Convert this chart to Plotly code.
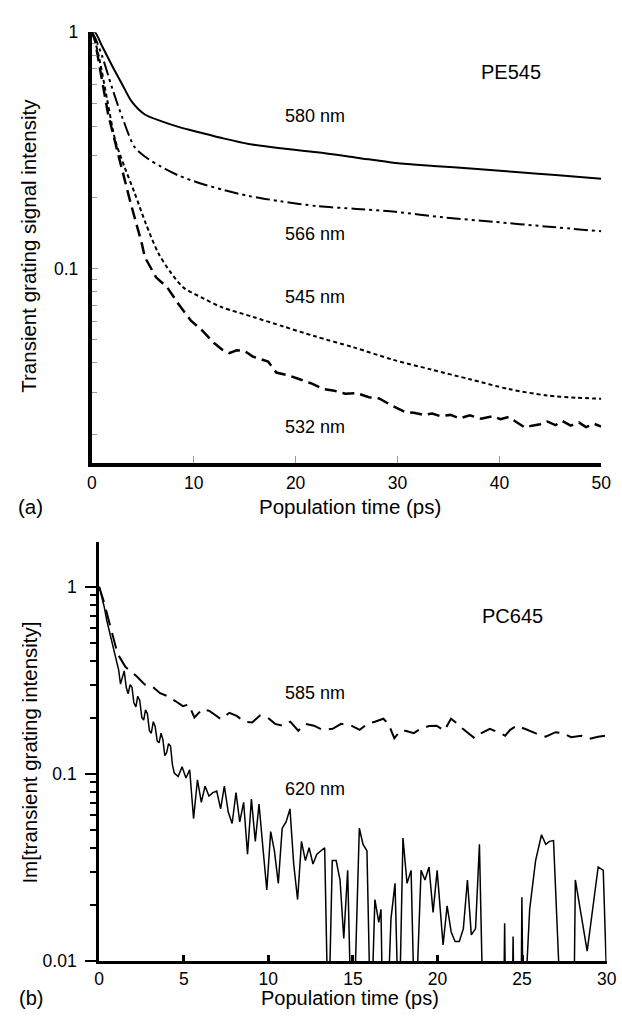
import plotly.graph_objects as go

W, H = 622, 1022
FONT = "Liberation Sans, Arial, Helvetica, sans-serif"

# ---- panel (a): PE545, transient grating signal ----
t_580 = [0, 0.3, 1.0, 2.0, 3.0, 3.9, 5.2, 6.8, 8.5, 10.6, 13.0,
         15.4, 18.5, 22.1, 26.0, 29.8, 33.5, 37.5, 41.3, 45.5, 50.0]
v_580 = [1.0, 1.0, 0.875, 0.72, 0.60, 0.51, 0.449, 0.421, 0.398, 0.377, 0.355,
         0.337, 0.323, 0.311, 0.295, 0.280, 0.272, 0.265, 0.257, 0.249, 0.240]

t_566 = [0, 0.3, 1.0, 2.0, 3.0, 4.2, 5.5, 6.8, 8.5, 10.6,
         13.0, 15.4, 18.5, 22.1, 26.0, 29.8, 34.5, 39.4, 44.5, 50.0]
v_566 = [1.0, 0.95, 0.795, 0.579, 0.435, 0.327, 0.292, 0.270, 0.248, 0.230,
         0.215, 0.203, 0.193, 0.184, 0.179, 0.174, 0.165, 0.158, 0.151, 0.144]

t_545 = [0, 0.3, 0.74, 1.5, 2.3, 3.2, 4.2, 5.3, 6.5, 7.7, 9.0, 10.8,
         12.7, 15.8, 18.8, 21.9, 25.7, 29.5, 33.3, 37.1, 40.9, 44.7, 47.5, 50.0]
v_545 = [1.0, 0.92, 0.77, 0.52, 0.349, 0.27, 0.209, 0.155, 0.117, 0.097, 0.0832, 0.0755,
         0.0689, 0.0626, 0.057, 0.0518, 0.0465, 0.0413, 0.0375, 0.0341, 0.031, 0.0291, 0.0285, 0.0282]

t_532 = [0, 0.3, 0.74, 1.6, 2.65, 3.8, 4.9, 5.2, 6.3, 7.4,
         8.5, 9.7, 10.8, 12.0, 12.8, 13.5, 14.2, 15.0, 15.8, 16.6,
         17.3, 18.1, 19.2, 20.4, 21.5, 22.7, 23.8, 24.9, 26.0, 27.2,
         28.2, 29.1, 29.9, 30.7, 31.6, 32.6, 33.4, 34.2, 35.2, 36.1,
         37.1, 38.2, 39.4, 40.1, 40.9, 41.7, 42.5, 43.2, 44.0, 44.7,
         45.5, 46.2, 47.0, 47.8, 48.5, 49.3, 50.0]
v_532 = [1.0, 0.93, 0.723, 0.45, 0.297, 0.19, 0.128, 0.112, 0.092, 0.0834,
         0.071, 0.0605, 0.055, 0.0485, 0.0455, 0.044, 0.0452, 0.0449, 0.0425, 0.0413,
         0.0405, 0.0364, 0.0355, 0.0341, 0.0328, 0.031, 0.0305, 0.0296, 0.0298, 0.0286,
         0.0283, 0.0269, 0.0258, 0.0248, 0.0246, 0.0241, 0.0244, 0.0238, 0.0241, 0.0233,
         0.0240, 0.0232, 0.0238, 0.0231, 0.0236, 0.0225, 0.0213, 0.0217, 0.0220, 0.0226,
         0.0218, 0.0227, 0.0217, 0.0224, 0.0214, 0.0221, 0.0215]

# ---- panel (b): PC645, Im[transient grating] ----
t_585 = [0, 0.3, 0.63, 1.09, 1.55, 2.23, 2.7, 3.14, 3.6, 4.05,
         4.5, 4.95, 5.3, 5.63, 6.1, 6.52, 6.9, 7.2, 7.7, 8.13,
         8.6, 9.04, 9.5, 9.96, 10.4, 10.86, 11.3, 11.77, 12.2, 12.7,
         13.2, 13.8, 14.3, 14.9, 15.4, 15.86, 16.3, 16.8, 17.1, 17.45,
         17.8, 18.1, 18.6, 19.0, 19.5, 19.95, 20.4, 20.8, 21.2, 21.5,
         21.9, 22.2, 22.6, 23.1, 23.5, 24.0, 24.3, 24.7, 25.3, 25.85,
         26.4, 26.98, 27.4, 27.9, 28.5, 29.0, 29.5, 29.9]
v_585 = [1.0, 0.82, 0.629, 0.438, 0.373, 0.331, 0.30, 0.293, 0.27, 0.26,
         0.245, 0.230, 0.235, 0.200, 0.222, 0.217, 0.205, 0.196, 0.212, 0.204,
         0.19, 0.188, 0.205, 0.200, 0.185, 0.181, 0.19, 0.170, 0.185, 0.181,
         0.172, 0.174, 0.185, 0.181, 0.172, 0.185, 0.19, 0.197, 0.185, 0.155,
         0.17, 0.170, 0.165, 0.174, 0.18, 0.181, 0.17, 0.197, 0.185, 0.174,
         0.163, 0.155, 0.165, 0.174, 0.168, 0.160, 0.172, 0.181, 0.172, 0.164,
         0.158, 0.167, 0.165, 0.157, 0.16, 0.154, 0.158, 0.160]

# values that fall below 0.01 are drawn off the bottom of the log axis
t_620 = [0, 0.15, 0.3, 0.45, 0.57, 0.7, 0.85, 1.03, 1.15, 1.26, 1.37, 1.48,
         1.6, 1.71, 1.83, 1.94, 2.05, 2.17, 2.28, 2.4, 2.52, 2.63,
         2.74, 2.85, 2.97, 3.08, 3.2, 3.31, 3.43, 3.54, 3.66, 3.77,
         3.88, 3.99, 4.1, 4.22, 4.33, 4.44, 4.67,
         4.90, 5.13, 5.35, 5.58, 5.81, 6.04, 6.26, 6.49, 6.72, 6.95,
         7.18, 7.40, 7.63, 7.86, 8.09, 8.31, 8.54, 8.77, 9.0, 9.23,
         9.45, 9.68, 9.91, 10.14, 10.36, 10.59, 10.82, 11.05, 11.28, 11.5,
         11.73, 11.96, 12.19, 12.41, 12.64, 12.87, 13.1, 13.33, 13.55, 13.78,
         14.01, 14.24, 14.46, 14.69, 14.92, 15.15, 15.38, 15.6, 15.83, 16.06,
         16.3, 16.53, 16.66, 16.78, 17.0, 17.25, 17.49, 17.72, 17.96, 18.2,
         18.44, 18.67, 19.03, 19.26, 19.5, 19.74, 19.98, 20.33, 20.57, 20.81,
         21.04, 21.29, 21.53, 21.77, 22.0, 22.25, 22.48, 22.72, 23.9, 23.97,
         24.05, 24.4, 24.47, 24.55, 24.93, 24.99, 25.08, 25.45, 25.8, 26.15,
         26.4, 26.62, 26.86, 27.35, 28.05, 28.15, 28.85, 29.5, 29.8, 30.0]
v_620 = [1.0, 0.88, 0.78, 0.66, 0.598, 0.53, 0.47, 0.40, 0.36, 0.302, 0.33, 0.355,
         0.29, 0.268, 0.30, 0.290, 0.24, 0.228, 0.26, 0.247, 0.20, 0.194,
         0.22, 0.210, 0.17, 0.165, 0.19, 0.179, 0.15, 0.1465, 0.165, 0.152,
         0.125, 0.130, 0.145, 0.141, 0.112, 0.101, 0.0969,
         0.109, 0.095, 0.105, 0.0577, 0.093, 0.0705, 0.086, 0.0762, 0.0794, 0.081,
         0.065, 0.086, 0.0625, 0.0543, 0.0794, 0.0554, 0.0705, 0.0372, 0.0733, 0.0436,
         0.069, 0.0403, 0.024, 0.0492, 0.0388, 0.026, 0.0512, 0.0554, 0.065, 0.033,
         0.0213, 0.0436, 0.0344, 0.0403, 0.033, 0.0372, 0.0388, 0.0403, 0.004, 0.0344,
         0.0344, 0.0271, 0.0132, 0.0305, 0.004, 0.0096, 0.0512, 0.042, 0.0388, 0.004,
         0.0213, 0.0161, 0.0189, 0.004, 0.004, 0.0168, 0.026, 0.004, 0.0454, 0.026,
         0.0305, 0.004, 0.0305, 0.0271, 0.0318, 0.0182, 0.0305, 0.0122, 0.0197, 0.0143,
         0.0127, 0.0127, 0.0149, 0.0271, 0.0138, 0.0149, 0.042, 0.004, 0.004, 0.0159,
         0.004, 0.004, 0.0135, 0.004, 0.004, 0.0219, 0.004, 0.0189, 0.0344, 0.0473,
         0.042, 0.0436, 0.044, 0.004, 0.004, 0.0271, 0.0113, 0.0318, 0.0305, 0.008]

top_labels = ["580 nm", "566 nm", "545 nm", "532 nm"]
bottom_labels = ["585 nm", "620 nm"]

minor_decade = [2, 3, 4, 5, 6, 7, 8, 9]


def paper(x, y):
    """Pixel position in the 622x1022 page -> paper coordinates."""
    return x / W, 1 - y / H


fig = go.Figure()

black = "black"
fig.add_trace(go.Scatter(x=t_580, y=v_580, mode="lines", xaxis="x", yaxis="y",
                         line=dict(color=black, width=2, shape="spline", smoothing=0.8)))
fig.add_trace(go.Scatter(x=t_566, y=v_566, mode="lines", xaxis="x", yaxis="y",
                         line=dict(color=black, width=2, shape="spline", smoothing=0.8,
                                   dash="14px,4px,3px,4px,3px,4px")))
fig.add_trace(go.Scatter(x=t_545, y=v_545, mode="lines", xaxis="x", yaxis="y",
                         line=dict(color=black, width=2, shape="spline", smoothing=0.8,
                                   dash="4px,3px")))
fig.add_trace(go.Scatter(x=t_532, y=v_532, mode="lines", xaxis="x", yaxis="y",
                         line=dict(color=black, width=2.5, dash="12px,6px")))

fig.add_trace(go.Scatter(x=t_585, y=v_585, mode="lines", xaxis="x2", yaxis="y2",
                         line=dict(color=black, width=2, dash="16px,8px")))
fig.add_trace(go.Scatter(x=t_620, y=v_620, mode="lines", xaxis="x2", yaxis="y2",
                         line=dict(color=black, width=1.5)))

tick_font = dict(family=FONT, size=17.5, color=black)
minor_vals = [m / 100 for m in minor_decade] + [m / 10 for m in minor_decade]

fig.update_layout(
    width=W, height=H,
    margin=dict(l=0, r=0, t=0, b=0),
    paper_bgcolor="white", plot_bgcolor="white",
    showlegend=False,
    font=dict(family=FONT, color=black),
    xaxis=dict(
        domain=[89 / W, 611 / W], anchor="y", range=[0, 50],
        showline=True, linecolor=black, linewidth=3.5,
        ticks="inside", tickvals=[0, 10, 20, 30, 40, 50], ticklen=7,
        tickcolor="#9a9a9a", tickwidth=1, tickfont=tick_font,
        ticklabelstandoff=2, showgrid=False, zeroline=False,
    ),
    yaxis=dict(
        domain=[1 - 461.7 / H, 1 - 22.7 / H], anchor="x", type="log",
        range=[-1.82, 0],
        showline=True, linecolor=black, linewidth=4,
        ticks="inside", tickvals=[0.1, 1], ticktext=["0.1", "1"], ticklen=6,
        tickcolor="#9a9a9a", tickwidth=1, tickfont=tick_font,
        ticklabelstandoff=6,
        minor=dict(ticks="inside", ticklen=5, tickcolor="#9a9a9a", tickwidth=1,
                   tickvals=minor_vals, showgrid=False),
        showgrid=False, zeroline=False,
    ),
    xaxis2=dict(
        domain=[96.5 / W, 616.5 / W], anchor="y2", range=[0, 30],
        showline=True, linecolor=black, linewidth=3,
        ticks="inside", tickvals=[0, 5, 10, 15, 20, 25, 30], ticklen=6,
        tickcolor=black, tickwidth=3, tickfont=tick_font,
        ticklabelstandoff=0, showgrid=False, zeroline=False,
    ),
    yaxis2=dict(
        domain=[1 - 970 / H, 1 - 543 / H], anchor="x2", type="log",
        range=[-2, 0.237],
        showline=True, linecolor=black, linewidth=3,
        ticks="outside", tickvals=[0.01, 0.1, 1], ticktext=["0.01", "0.1", "1"],
        ticklen=11, tickcolor=black, tickwidth=2, tickfont=tick_font,
        ticklabelstandoff=5,
        minor=dict(ticks="outside", ticklen=6, tickcolor=black, tickwidth=2,
                   tickvals=minor_vals, showgrid=False),
        showgrid=False, zeroline=False,
    ),
)

annotations = []


def note(text, x, y, size=18, angle=0):
    px_, py_ = paper(x, y)
    annotations.append(dict(text=text, x=px_, y=py_, xref="paper", yref="paper",
                            xanchor="center", yanchor="middle", showarrow=False,
                            textangle=angle, font=dict(family=FONT, size=size, color=black)))


# panel (a)
note("PE545", 518, 63, size=20)
for label, y in zip(top_labels, [108, 228, 293, 425]):
    note(label, 318, y)
note("Population time (ps)", 354, 506, size=20.5)
note("Transient grating signal intensity", 24, 240, size=20.5, angle=-90)
note("(a)", 26, 506, size=20.5)

# panel (b)
note("PC645", 520, 618, size=20)
for label, y in zip(bottom_labels, [697, 795]):
    note(label, 318, y)
note("Population time (ps)", 354, 1008, size=20)
note("Im[transient grating intensity]", 25, 757, size=20.5, angle=-90)
note("(b)", 27, 1008, size=20)

fig.update_layout(annotations=annotations)

# drop the browser's default 8px body margin so the page maps 1:1 onto the figure
fig.write_html("out.html", config={"displayModeBar": False},
               post_script="document.body.style.margin='0';document.body.style.overflow='hidden';")
